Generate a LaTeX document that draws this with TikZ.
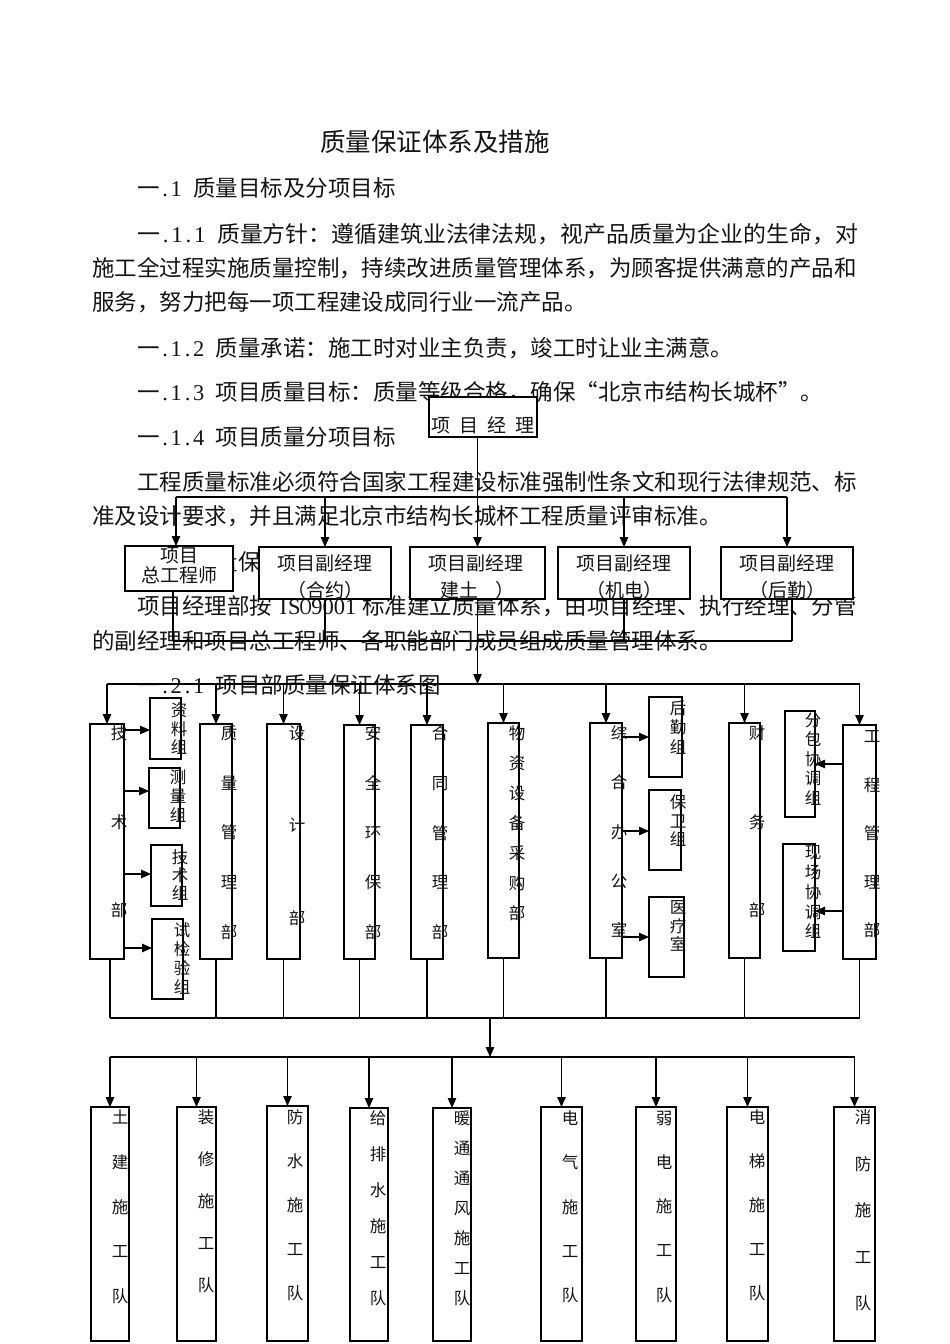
\documentclass[tikz,border=0pt]{standalone}
\usepackage{fontspec}
\usepackage{graphicx}
\setmainfont{Liberation Serif}
\newfontfamily\cjk{Noto Sans CJK SC}
\usetikzlibrary{arrows.meta}
\definecolor{txt}{gray}{0.08}
\newcommand\hc[1]{\makebox[0.5em][c]{\rmfamily #1}}
\newcommand\mkbox[5]{\node[box, minimum width={#3-#2}, minimum height={#5-#4}] (#1) at ({(#2+#3)/2},{(#4+#5)/2}) {};}
\newcommand\vcol[5]{\node[vtxt, font=\cjk\fontsize{16.5}{#4}\selectfont] (#1) at (#2,#3-7.5) {#5};}
\tikzset{
  ln/.style={line width=1.1pt, draw=black},
  arr/.style={ln, -{Triangle[length=10pt,width=8.5pt]}},
  box/.style={draw=black, line width=1.3pt, fill=white, inner sep=0pt, outer sep=0pt},
  body/.style={font=\cjk\fontsize{22.5}{27}\selectfont, inner sep=0pt, outer sep=0pt, anchor=west, text=txt},
  vtxt/.style={align=center, inner sep=0pt, anchor=north, text=txt},
  btxt/.style={font=\cjk\fontsize{19}{#1}\selectfont, align=center, inner sep=0pt, text=txt},
}
\begin{document}
\begin{tikzpicture}[x=1pt,y=-1pt]
\fill[white] (0,0) rectangle (950,1344);
\useasboundingbox (0,0) rectangle (950,1344);

% ---------- body text ----------
\node[font=\cjk\fontsize{25.5}{30}\selectfont, inner sep=0pt, text=txt] (title) at (435,142) {质量保证体系及措施};
\node[body] (l0) at (137,188) {一\hc{.}\hc{1}\hspace{0.5em}质量目标及分项目标};
\node[body] (l1) at (137,234) {\scalebox{1.0173}[1]{一\hc{.}\hc{1}\hc{.}\hc{1}\hspace{0.5em}质量方针：遵循建筑业法律法规，视产品质量为企业的生命，对}};
\node[body] (l2) at (92,268) {施工全过程实施质量控制，持续改进质量管理体系，为顾客提供满意的产品和};
\node[body] (l3) at (92,302) {服务，努力把每一项工程建设成同行业一流产品。};
\node[body] (l4) at (137,348) {一\hc{.}\hc{1}\hc{.}\hc{2}\hspace{0.5em}质量承诺：施工时对业主负责，竣工时让业主满意。};
\node[body] (l5) at (137,392) {一\hc{.}\hc{1}\hc{.}\hc{3}\hspace{0.5em}项目质量目标：质量等级合格，确保“北京市结构长城杯”。};
\node[body] (l6) at (137,437) {一\hc{.}\hc{1}\hc{.}\hc{4}\hspace{0.5em}项目质量分项目标};
\node[body] (l7) at (137,482) {工程质量标准必须符合国家工程建设标准强制性条文和现行法律规范、标};
\node[body] (l8) at (92,516) {准及设计要求，并且满足北京市结构长城杯工程质量评审标准。};
\node[body] (l9) at (137,562) {一\hc{.}\hc{2}\hspace{0.5em}质量保证体系};
\node[body] (l10) at (137,606) {项目经理部按\hspace{0.25em}\hc{I}\hc{S}\hc{\scalebox{0.75}[1]{O}}\hc{9}\hc{0}\hc{0}\hc{1}\hspace{0.25em}标准建立质量体系，由项目经理、执行经理、分管};
\node[body] (l11) at (92,641) {的副经理和项目总工程师、各职能部门成员组成质量管理体系。};
\node[body] (l12) at (137,685) {一\hc{.}\hc{2}\hc{.}\hc{1}\hspace{0.5em}项目部质量保证体系图};

% ---------- boxes ----------
% top level
\mkbox{pm}{429}{537}{397}{437}
\mkbox{zgs}{125}{233}{546}{591}
\mkbox{hy}{259}{391}{547}{599}
\mkbox{jt}{410}{545}{547}{599}
\mkbox{jd}{558}{690}{547}{599}
\mkbox{hq}{721}{853}{547}{599}
% departments
\mkbox{jsb}{90}{124}{724}{959}
\mkbox{zlz}{150}{181}{698}{759}
\mkbox{clz}{149}{180}{768}{828}
\mkbox{jsz}{151}{182}{845}{906}
\mkbox{sjy}{152}{183}{919}{999}
\mkbox{zlgl}{200}{232}{724}{959}
\mkbox{sjb}{267}{300}{724}{959}
\mkbox{aqhb}{344}{375}{725}{959}
\mkbox{htgl}{411}{443}{725}{959}
\mkbox{wzsb}{488}{519}{723}{958}
\mkbox{zhbgs}{590}{622}{723}{958}
\mkbox{hqz}{649}{682}{697}{777}
\mkbox{bwz}{649}{681}{790}{870}
\mkbox{ylz}{649}{684}{897}{977}
\mkbox{cwb}{729}{760}{723}{958}
\mkbox{fbz}{785}{815}{711}{817}
\mkbox{xcz}{783}{815}{844}{951}
\mkbox{gcgl}{843}{876}{725}{959}
% teams
\mkbox{tj}{91}{129}{1107}{1341}
\mkbox{zx}{177}{216}{1107}{1341}
\mkbox{fs}{267}{308}{1106}{1341}
\mkbox{gps}{350}{388}{1108}{1341}
\mkbox{nt}{433}{471}{1108}{1341}
\mkbox{dq}{541}{582}{1107}{1341}
\mkbox{rd}{636}{676}{1107}{1341}
\mkbox{dt}{727}{768}{1107}{1341}
\mkbox{xf}{834}{875}{1107}{1341}

% ---------- connectors ----------
\coordinate (t1L) at (176,497);
\draw[ln] (t1L) -- (hq.north |- t1L);
\draw[arr] (t1L) -- (t1L |- zgs.north);
\draw[arr] (hy.north |- t1L) -- (hy.north);
\draw[arr] (pm.south -| jt.north) -- (jt.north);
\draw[arr] (jd.north |- t1L) -- (jd.north);
\draw[arr] (hq.north |- t1L) -- (hq.north);

\coordinate (t2L) at (173,641);
\coordinate (t2R) at (792,641);
\draw[ln] (t2L) -- (t2R);
\draw[ln] (zgs.south -| t2L) -- (t2L);
\draw[ln] (hy.south) -- (hy.south |- t2L);
\draw[ln] (jd.south) -- (jd.south |- t2L);
\draw[ln] (hq.south -| t2R) -- (t2R);

\coordinate (m1L) at (107,684);
\draw[ln] (m1L) -- (gcgl.north |- m1L);
\draw[arr] (jt.south) -- (jt.south |- m1L);
\foreach \b in {jsb,zlgl,sjb,aqhb,htgl,wzsb,zhbgs,cwb,gcgl}
  \draw[arr] (\b.north |- m1L) -- (\b.north);

\draw[arr] (jsb.east |- 0,730) -- (zlz.west |- 0,730);
\draw[arr] (jsb.east |- 0,791) -- (clz.west |- 0,791);
\draw[arr] (jsb.east |- 0,874) -- (jsz.west |- 0,874);
\draw[arr] (jsb.east |- 0,948) -- (sjy.west |- 0,948);
\draw[arr] (zhbgs.east |- 0,737) -- (hqz.west |- 0,737);
\draw[arr] (zhbgs.east |- 0,831) -- (bwz.west |- 0,831);
\draw[arr] (zhbgs.east |- 0,937) -- (ylz.west |- 0,937);
\draw[arr] (gcgl.west |- 0,764) -- (fbz.east |- 0,764);
\draw[arr] (gcgl.west |- 0,911) -- (xcz.east |- 0,911);

\coordinate (m2L) at (110,1018);
\draw[ln] (m2L) -- (gcgl.south |- m2L);
\draw[ln] (jsb.south -| m2L) -- (m2L);
\foreach \b in {zlgl,sjb,aqhb,htgl,wzsb,zhbgs,cwb,gcgl}
  \draw[ln] (\b.south) -- (\b.south |- m2L);

\coordinate (m2C) at (490,1018);
\coordinate (b1C) at (490,1057);
\draw[arr] (m2C) -- (b1C);
\coordinate (b1L) at (110,1057);
\draw[ln] (b1L) -- (xf.north |- b1L);
\foreach \b in {tj,zx,fs,gps,nt,dq,rd,dt,xf}
  \draw[arr] (\b.north |- b1L) -- (\b.north);

% ---------- labels ----------
\node[btxt=20] (t-pm) at (483,425) {项\hspace{9pt}目\hspace{9pt}经\hspace{9pt}理};
\node[btxt=20] (t-zgs) at (179,566) {项目\\总工程师};
\node[btxt=27] (t-hy) at (325,576.5) {项目副经理\\（合约）};
\node[btxt=27] (t-jt1) at (476,563) {项目副经理};
\node[btxt=27, anchor=west] (t-jt2) at (440,590) {建土\hspace{17pt}）};
\node[btxt=27] (t-jd) at (624,576.5) {项目副经理\\（机电）};
\node[btxt=27] (t-hq) at (787,576.5) {项目副经理\\（后勤）};

\vcol{t-jsb}{119}{733}{88.5}{技\\术\\部}
\vcol{t-zlz}{179}{710}{18.5}{资\\料\\组}
\vcol{t-clz}{178}{777}{19}{测\\量\\组}
\vcol{t-jsz}{180}{857}{18}{技\\术\\组}
\vcol{t-sjy}{182}{930}{19}{试\\检\\验\\组}
\vcol{t-zlgl}{229}{733}{49.75}{质\\量\\管\\理\\部}
\vcol{t-sjb}{297}{733}{92.5}{设\\计\\部}
\vcol{t-aqhb}{373}{733}{49.75}{安\\全\\环\\保\\部}
\vcol{t-htgl}{440}{733}{49.75}{合\\同\\管\\理\\部}
\vcol{t-wzsb}{517}{733}{30}{物\\资\\设\\备\\采\\购\\部}
\vcol{t-zhbgs}{619}{733}{49.25}{综\\合\\办\\公\\室}
\vcol{t-hqz}{678}{708}{19.5}{后\\勤\\组}
\vcol{t-bwz}{678}{802}{18.5}{保\\卫\\组}
\vcol{t-ylz}{678}{908}{18.5}{医\\疗\\室}
\vcol{t-cwb}{757}{733}{88.5}{财\\务\\部}
\vcol{t-fbz}{813}{720}{19.5}{分\\包\\协\\调\\组}
\vcol{t-xcz}{813}{853}{19.75}{现\\场\\协\\调\\组}
\vcol{t-gcgl}{872}{738}{48.5}{工\\程\\管\\理\\部}

\vcol{t-tj}{120}{1117}{44.75}{土\\建\\施\\工\\队}
\vcol{t-zx}{206}{1117}{42}{装\\修\\施\\工\\队}
\vcol{t-fs}{295}{1117}{44}{防\\水\\施\\工\\队}
\vcol{t-gps}{378}{1118}{36}{给\\排\\水\\施\\工\\队}
\vcol{t-nt}{462}{1118}{30}{暖\\通\\通\\风\\施\\工\\队}
\vcol{t-dq}{570}{1118}{44.25}{电\\气\\施\\工\\队}
\vcol{t-rd}{664}{1118}{44.25}{弱\\电\\施\\工\\队}
\vcol{t-dt}{757}{1117}{44}{电\\梯\\施\\工\\队}
\vcol{t-xf}{863}{1117}{46.5}{消\\防\\施\\工\\队}
\end{tikzpicture}
\end{document}
